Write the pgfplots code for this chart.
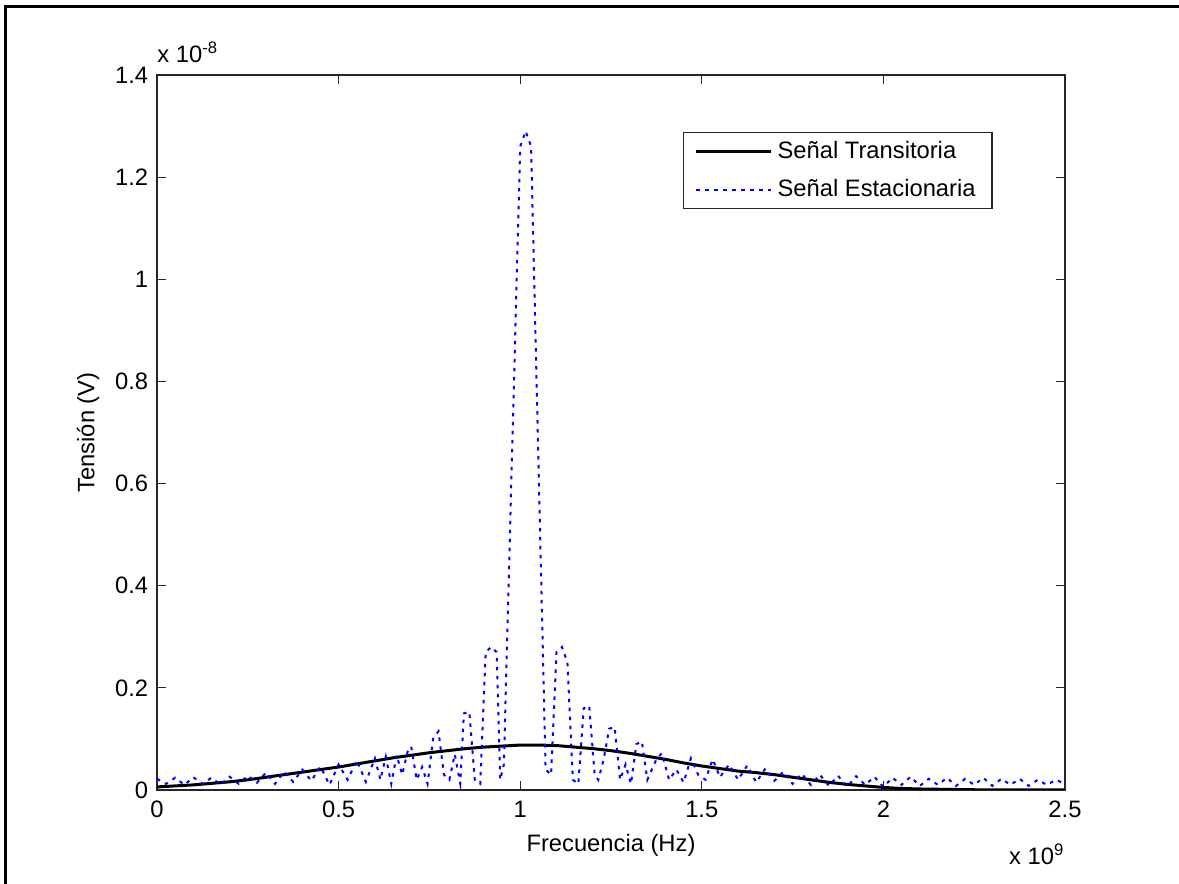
\documentclass[border=0pt]{standalone}
\usepackage{fontspec}
\setmainfont{Liberation Sans}
\usepackage{pgfplots}
\pgfplotsset{compat=1.18}
\pgfplotstableread{
x y
0.00 0.006
0.05 0.008
0.10 0.010
0.15 0.013
0.20 0.016
0.25 0.020
0.30 0.025
0.35 0.030
0.40 0.035
0.45 0.040
0.50 0.045
0.55 0.051
0.60 0.057
0.65 0.063
0.70 0.068
0.75 0.073
0.80 0.077
0.85 0.081
0.90 0.084
0.95 0.086
1.00 0.088
1.05 0.088
1.10 0.087
1.15 0.084
1.20 0.081
1.25 0.077
1.30 0.072
1.35 0.066
1.40 0.060
1.45 0.053
1.50 0.047
1.55 0.042
1.60 0.037
1.65 0.034
1.70 0.030
1.75 0.025
1.80 0.020
1.85 0.015
1.90 0.011
1.95 0.008
2.00 0.005
2.05 0.003
2.10 0.002
2.20 0.001
2.30 0.000
2.50 0.000
}\transitoria
\pgfplotstableread{
x y
0.000 0.022
0.025 0.012
0.050 0.024
0.075 0.010
0.100 0.025
0.125 0.012
0.150 0.024
0.175 0.010
0.200 0.026
0.225 0.012
0.250 0.028
0.275 0.014
0.300 0.034
0.325 0.012
0.350 0.036
0.375 0.016
0.400 0.040
0.425 0.018
0.450 0.046
0.475 0.010
0.500 0.050
0.525 0.020
0.550 0.058
0.575 0.016
0.600 0.062
0.615 0.020
0.630 0.065
0.645 0.012
0.660 0.068
0.675 0.030
0.690 0.075
0.700 0.085
0.715 0.020
0.730 0.045
0.745 0.012
0.760 0.100
0.775 0.115
0.790 0.030
0.805 0.020
0.820 0.070
0.835 0.012
0.845 0.150
0.860 0.153
0.875 0.020
0.890 0.012
0.905 0.270
0.920 0.280
0.935 0.270
0.945 0.020
0.955 0.050
1.000 1.260
1.015 1.290
1.030 1.260
1.070 0.040
1.085 0.030
1.100 0.270
1.115 0.280
1.130 0.250
1.145 0.020
1.160 0.012
1.175 0.160
1.190 0.165
1.205 0.030
1.215 0.020
1.230 0.060
1.245 0.120
1.260 0.123
1.275 0.020
1.290 0.050
1.305 0.012
1.320 0.090
1.335 0.095
1.350 0.020
1.375 0.060
1.390 0.072
1.410 0.020
1.430 0.040
1.450 0.015
1.470 0.062
1.490 0.030
1.510 0.020
1.530 0.060
1.550 0.025
1.575 0.050
1.600 0.020
1.625 0.048
1.650 0.015
1.675 0.042
1.700 0.018
1.725 0.036
1.750 0.012
1.775 0.032
1.800 0.010
1.825 0.030
1.850 0.008
1.875 0.028
1.900 0.006
1.925 0.027
1.950 0.010
1.975 0.026
2.000 0.006
2.025 0.024
2.050 0.010
2.075 0.026
2.100 0.008
2.125 0.022
2.150 0.010
2.175 0.024
2.200 0.008
2.225 0.022
2.250 0.010
2.275 0.024
2.300 0.008
2.325 0.022
2.350 0.010
2.375 0.022
2.400 0.008
2.425 0.020
2.450 0.010
2.475 0.020
2.500 0.012
}\estacionaria

\begin{document}
\begin{tikzpicture}
% image is 1179x884 px, 1 px = 0.4pt, axis box corner at px (157,790)
\useasboundingbox (-62.8pt,-37.6pt) rectangle (408.8pt,316pt);
\draw[line width=1.2pt] (-60.4pt,-40pt) -- (-60.4pt,313.2pt) -- (412pt,313.2pt);
\begin{axis}[
    at={(0,0)}, anchor=south west,
    scale only axis,
    width=363.2pt, height=286pt,
    xmin=0, xmax=2.5,
    ymin=0, ymax=1.4,
    xtick={0,0.5,1,1.5,2,2.5},
    ytick={0,0.2,0.4,0.6,0.8,1,1.2,1.4},
    scaled ticks=false,
    tick align=inside,
    xtick pos=both, ytick pos=both,
    major tick length=3.6pt,
    axis line style={line width=0.6pt, black!85},
    tick style={line width=0.5pt, black!85},
    /pgf/number format/assume math mode=true,
    ticklabel style={font=\fontsize{9.5}{11.4}\selectfont},
    xticklabel style={yshift=-1pt},
    xlabel={Frecuencia (Hz)},
    ylabel={Tensión (V)},
    label style={font=\fontsize{9.5}{11.4}\selectfont},
    xlabel style={at={(axis description cs:0.5,0)}, anchor=center, yshift=-22pt},
    ylabel style={at={(axis description cs:-0.076,0.5)}, anchor=center},
    legend style={at={(0.579,0.920)}, anchor=north west,
        font=\fontsize{9.5}{11.4}\selectfont,
        draw=black!85, line width=0.5pt,
        inner xsep=4.5pt, inner ysep=1.2pt, row sep=3pt,
        cells={anchor=west}},
    legend image code/.code={\draw[#1] (3.6pt,0pt) -- (33.6pt,0pt);},
    legend cell align=left,
]
\addplot[black, line width=1.2pt] table[x=x, y=y] {\transitoria};
\addlegendentry{Señal Transitoria}
\addplot[blue, line width=0.8pt, dash pattern=on 1.4pt off 2.2pt] table[x=x, y=y] {\estacionaria};
\addlegendentry{Señal Estacionaria}
\end{axis}
\node[anchor=base west, font=\fontsize{9.5}{11.4}\selectfont, inner sep=0pt] at (0pt,290.8pt) {x 10\textsuperscript{-8}};
\node[anchor=base east, font=\fontsize{9.5}{11.4}\selectfont, inner sep=0pt] at (363.2pt,-30pt) {x 10\textsuperscript{9}};
\end{tikzpicture}
\end{document}
